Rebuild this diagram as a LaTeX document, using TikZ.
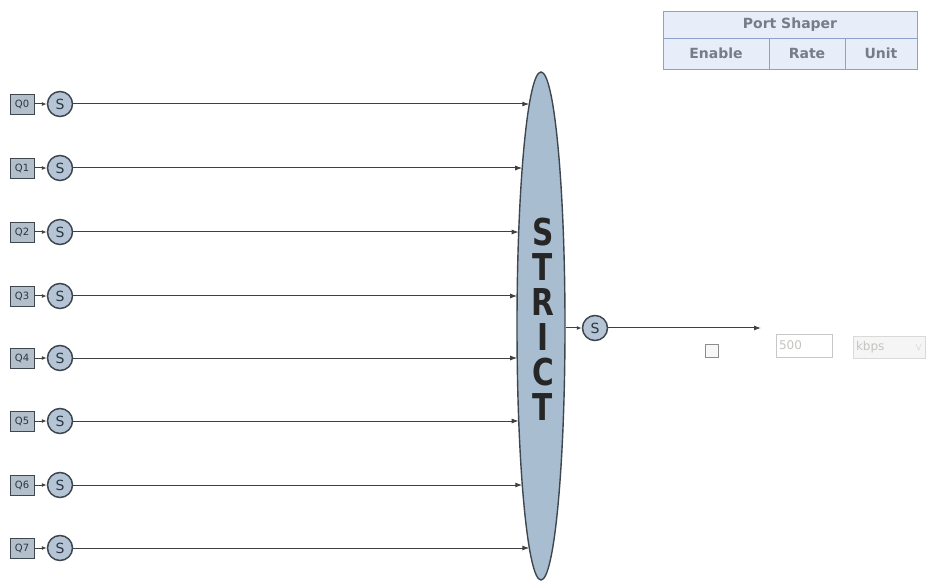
\documentclass[tikz,border=0pt]{standalone}
\usepackage{fontspec}
\setmainfont{DejaVu Sans}
\newfontfamily\strictfont{DejaVu Sans Bold}[FakeStretch=0.8]
\usepackage{tikz}
\usetikzlibrary{positioning,shapes,arrows.meta}

\definecolor{qfill}{HTML}{B3BFCB}
\definecolor{sfill}{HTML}{B5C5D5}
\definecolor{efill}{HTML}{A9BDD0}
\definecolor{edge}{HTML}{3E4750}
\definecolor{wire}{HTML}{404040}
\definecolor{mark}{HTML}{2A3646}
\definecolor{tabfill}{HTML}{E8EEF9}
\definecolor{tabline}{HTML}{8CA2CC}
\definecolor{tabtext}{HTML}{777D88}
\definecolor{faint}{HTML}{C4C4C0}

\tikzset{
  qbox/.style={rectangle, draw=edge, fill=qfill, line width=0.9pt, minimum width=24pt, minimum height=20pt, inner sep=0pt, font=\fontsize{10}{10}\selectfont, text=mark},
  sbox/.style={circle, draw=edge, fill=sfill, line width=1.5pt, minimum size=25pt, inner sep=0pt, font=\fontsize{14}{14}\selectfont, text=mark},
  wire/.style={draw=wire, line width=1pt, -{Latex[length=7pt,width=5pt]}},
  cell/.style={rectangle, draw=tabline, fill=tabfill, line width=0.9pt, inner sep=0pt, font=\bfseries\fontsize{14}{14}\selectfont, text=tabtext},
}

\begin{document}
\begin{tikzpicture}[x=1pt, y=-1pt]
\useasboundingbox (0,0) rectangle (929,585);

% scheduler
\node[ellipse, draw=edge, fill=efill, line width=1.4pt, minimum width=48pt, minimum height=508pt, inner sep=0pt] (strict) at (541,326) {};
\node[font=\strictfont\fontsize{37}{35}\selectfont, text=black!85, align=center] (label) at (543,319) {S\\T\\R\\I\\C\\T};

% queues
\foreach \i/\y in {0/104, 1/168, 2/232, 3/296, 4/358, 5/421, 6/485, 7/548} {
  \node[qbox] (q\i) at (22,\y) {Q\i};
  \node[sbox] (s\i) at (60,\y) {S};
  \pgfmathsetmacro\xin{541-24*sqrt(1-((\y-326)/254)^2)}
  \coordinate (in\i) at (\xin,\y);
  \draw[wire, -{Latex[length=5pt,width=4pt]}] (q\i) -- (s\i);
  \draw[wire] (s\i) -- (in\i);
}

% output
\node[sbox] (sout) at (595,328) {S};
\coordinate (out) at (761,328);
\draw[wire, -{Latex[length=5pt,width=4pt]}] (strict.east |- sout) -- (sout);
\draw[wire] (sout) -- (out);

% port shaper table
\node[cell, minimum width=254pt, minimum height=27pt] (head) at (790,24.5) {Port Shaper};
\node[cell, minimum width=106pt, minimum height=31pt] (enable) at (716,53.5) {Enable};
\node[cell, minimum width=76pt, minimum height=31pt] (rate) at (807,53.5) {Rate};
\node[cell, minimum width=72pt, minimum height=31pt] (unit) at (881,53.5) {Unit};

% controls
\node[rectangle, draw=black!45, fill=black!3, line width=0.9pt, minimum size=13pt, inner sep=0pt] (check) at (712,351) {};
\node[rectangle, draw=black!22, fill=white, line width=0.9pt, minimum width=56pt, minimum height=23pt, inner sep=2pt, text=faint, font=\fontsize{12}{12}\selectfont, text width=50pt, align=left] (rateval) at (804,345.5) {500};
\node[rectangle, draw=black!15, fill=black!4, line width=0.9pt, minimum width=72pt, minimum height=22pt, inner sep=2pt, text=faint, font=\fontsize{12}{12}\selectfont, text width=66pt, align=left] (unitval) at (889,347) {kbps \hfill{\fontsize{10}{10}\selectfont$\vee$}};
\end{tikzpicture}
\end{document}
